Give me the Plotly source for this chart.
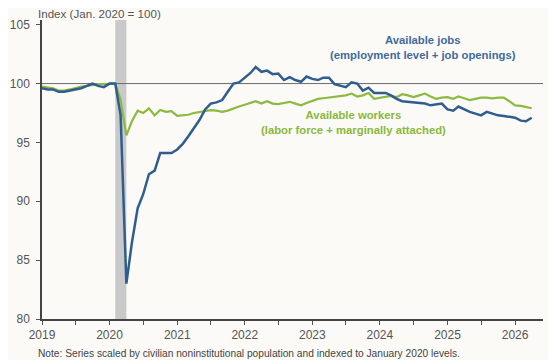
import plotly.graph_objects as go
import pandas as pd

months = pd.date_range("2019-01-01", "2026-04-01", freq="MS")

jobs = [
    # 2019
    99.6, 99.5, 99.5, 99.3, 99.3, 99.4, 99.5, 99.6, 99.8, 100.0, 99.8, 99.7,
    # 2020
    100.0, 100.0, 97.3, 83.0, 86.5, 89.4, 90.6, 92.3, 92.6, 94.1, 94.1, 94.1,
    # 2021
    94.4, 94.9, 95.5, 96.2, 96.9, 97.8, 98.3, 98.4, 98.6, 99.3, 100.0, 100.1,
    # 2022
    100.5, 100.9, 101.4, 101.0, 101.1, 100.8, 100.85, 100.3, 100.55, 100.3, 100.15, 100.6,
    # 2023
    100.4, 100.3, 100.5, 100.5, 99.95, 99.8, 99.7, 100.1, 100.0, 99.4, 99.65, 99.2,
    # 2024
    99.2, 99.2, 99.0, 98.7, 98.5, 98.45, 98.45, 98.4, 98.3, 98.15, 98.2, 98.3,
    # 2025
    97.8, 97.7, 98.05, 97.8, 97.6, 97.45, 97.3, 97.6, 97.45, 97.3, 97.25, 97.2,
    # 2026
    97.1, 96.85, 96.8, 97.1,
]

workers = [
    # 2019
    99.75, 99.7, 99.6, 99.4, 99.4, 99.5, 99.65, 99.75, 99.8, 99.9, 99.95, 99.95,
    # 2020
    100.0, 100.0, 98.6, 95.6, 96.8, 97.7, 97.5, 97.9, 97.3, 97.75, 97.6, 97.65,
    # 2021
    97.25, 97.3, 97.35, 97.5, 97.6, 97.65, 97.75, 97.7, 97.6, 97.7, 97.9, 98.05,
    # 2022
    98.2, 98.35, 98.5, 98.3, 98.5, 98.3, 98.25, 98.35, 98.45, 98.3, 98.15, 98.35,
    # 2023
    98.55, 98.7, 98.75, 98.8, 98.85, 98.9, 99.0, 99.15, 98.9, 99.0, 99.2, 98.7,
    # 2024
    98.8, 98.9, 98.95, 98.85, 99.1, 99.0, 98.85, 99.0, 99.15, 98.9, 98.7, 98.8,
    # 2025
    98.85, 98.7, 98.9, 98.75, 98.6, 98.7, 98.8, 98.8, 98.75, 98.8, 98.8, 98.5,
    # 2026
    98.15, 98.1, 98.0, 97.9,
]

year_ticks = ["2019-01-01", "2020-01-01", "2021-01-01", "2022-01-01",
              "2023-01-01", "2024-01-01", "2025-01-01", "2026-01-01"]
year_labels = ["2019", "2020", "2021", "2022", "2023", "2024", "2025", "2026"]
y_ticks = [80, 85, 90, 95, 100, 105]

BG = "#fbfaf7"
BLUE = "#2f5e8e"
GREEN = "#8cb940"
FONT = "Liberation Sans, Arial"

fig = go.Figure()

fig.add_shape(type="rect", xref="x", yref="paper", x0="2020-02-01", x1="2020-04-01",
              y0=0, y1=1, fillcolor="#c9c9c9", line_width=0, layer="below")
fig.add_shape(type="line", xref="paper", yref="y", x0=0, x1=1, y0=100, y1=100,
              line=dict(color="#6a6a6a", width=1), layer="below")

fig.add_trace(go.Scatter(x=months, y=workers, mode="lines", name="Available workers",
                         line=dict(color=GREEN, width=2.2)))
fig.add_trace(go.Scatter(x=months, y=jobs, mode="lines", name="Available jobs",
                         line=dict(color=BLUE, width=2.5)))

fig.add_annotation(x=0.76, y=0.908, xref="paper", yref="paper", showarrow=False,
                   xanchor="center", yanchor="middle",
                   text="<b>Available jobs</b><br><b>(employment level + job openings)</b>",
                   font=dict(family=FONT, size=11.3, color="#3f6b9a"),
                   align="center")
fig.add_annotation(x=0.622, y=0.658, xref="paper", yref="paper", showarrow=False,
                   xanchor="center", yanchor="middle",
                   text="<b>Available workers</b><br><b>(labor force + marginally attached)</b>",
                   font=dict(family=FONT, size=11.3, color="#8ab83c"),
                   align="center")
fig.add_annotation(x=-0.01, y=1.0234, xref="paper", yref="paper", showarrow=False,
                   xanchor="left", yanchor="middle", borderpad=0,
                   text="Index (Jan. 2020 = 100)",
                   font=dict(family=FONT, size=11.6, color="#555555"))
fig.add_annotation(x=-0.012, y=-0.114, xref="paper", yref="paper", showarrow=False,
                   xanchor="left", yanchor="middle",
                   text="Note: Series scaled by civilian noninstitutional population and indexed to January 2020 levels.",
                   font=dict(family=FONT, size=10.2, color="#444444"))

fig.update_layout(
    width=548, height=352,
    margin=dict(l=34, r=13, t=12, b=41, autoexpand=False),
    paper_bgcolor=BG, plot_bgcolor=BG,
    showlegend=False,
    font=dict(family=FONT, size=12, color="#555555"),
)
fig.update_xaxes(
    range=["2019-01-01", "2026-06-01"],
    tickvals=year_ticks, ticktext=year_labels,
    ticks="outside", ticklen=4, tickcolor="#555555",
    minor=dict(dtick="M6", tick0="2019-01-01", ticks="outside", ticklen=4, tickcolor="#555555", showgrid=False),
    showline=True, linecolor="#444444", linewidth=1.5,
    showgrid=False, zeroline=False, automargin=False,
    tickfont=dict(size=12, color="#555555"),
)
fig.update_yaxes(
    range=[80, 105.4],
    tickvals=y_ticks,
    ticks="outside", ticklen=4, tickcolor="#555555",
    ticklabelstandoff=4,
    showline=True, linecolor="#444444", linewidth=1.5,
    showgrid=False, zeroline=False, automargin=False,
    tickfont=dict(size=12, color="#555555"),
)

fig.write_html("out.html")
